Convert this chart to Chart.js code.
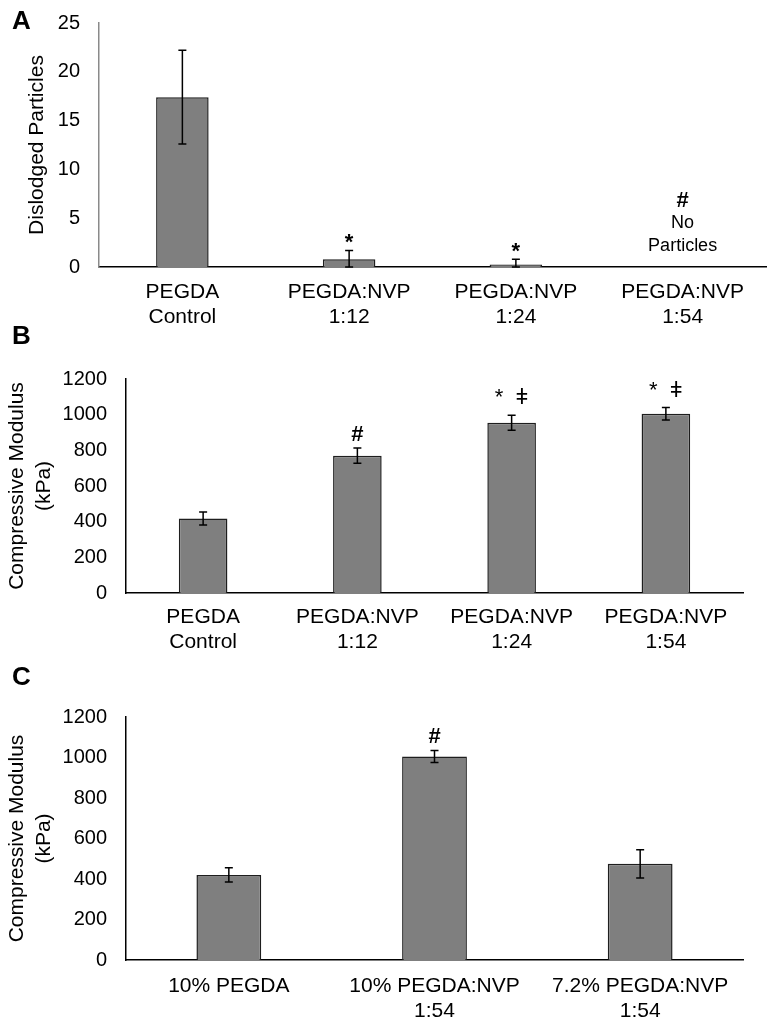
<!DOCTYPE html>
<html>
<head>
<meta charset="utf-8">
<script src="https://cdn.jsdelivr.net/npm/chart.js@4.4.1/dist/chart.umd.min.js"></script>
<style>
  body { margin: 0; background: #fff; }
  #page { position: relative; width: 775px; height: 1027px; }
  .panel { position: absolute; left: 0; width: 775px; }
  .letter { position: absolute; left: 12px; font: bold 26px 'Liberation Sans', Arial, sans-serif; line-height: 1; color: #000; }
</style>
</head>
<body>
<div id="page">
  <div class="panel" style="top:0;height:330px"><canvas id="chartA"></canvas></div>
  <div class="panel" style="top:330px;height:335px"><canvas id="chartB"></canvas></div>
  <div class="panel" style="top:665px;height:362px"><canvas id="chartC"></canvas></div>
  <div class="letter" style="top:7px">A</div>
  <div class="letter" style="top:322px">B</div>
  <div class="letter" style="top:663px">C</div>
</div>
<script>
// Panel A - dislodged particles
const groupsAB = [['PEGDA', 'Control'], ['PEGDA:NVP', '1:12'], ['PEGDA:NVP', '1:24'], ['PEGDA:NVP', '1:54']];
const particles = [17.4, 0.8, 0.25, 0];
const particlesErr = [4.8, 0.9, 0.55, 0];
const marksA = ['', '*', '*', '#'];
const notesA = [[], [], [], ['No', 'Particles']];

// Panel B - compressive modulus by ratio
const modulusB = [418, 770, 955, 1005];
const modulusErrB = [36, 43, 42, 35];
const marksB = ['', '#', '*  ǂ', '*  ǂ'];

// Panel C - compressive modulus by concentration
const groupsC = [['10% PEGDA'], ['10% PEGDA:NVP', '1:54'], ['7.2% PEGDA:NVP', '1:54']];
const modulusC = [420, 1005, 475];
const modulusErrC = [35, 30, 70];
const marksC = ['', '#', ''];

Chart.defaults.font.family = "'Liberation Sans', Arial, sans-serif";
Chart.defaults.color = '#000';

// draws error bars, significance marks and notes above each bar
function errorMarks(errors, marks, notes) {
    return {
        id: 'errorMarks',
        afterDatasetsDraw(chart) {
            const ctx = chart.ctx;
            const y = chart.scales.y;
            const values = chart.data.datasets[0].data;
            const bars = chart.getDatasetMeta(0).data;
            ctx.save();
            bars.forEach((bar, i) => {
                const v = values[i];
                const e = errors[i];
                let top = y.getPixelForValue(v + e);
                if (e > 0) {
                    const lo = y.getPixelForValue(Math.max(v - e, y.min));
                    ctx.strokeStyle = '#000';
                    ctx.lineWidth = 1.5;
                    ctx.beginPath();
                    ctx.moveTo(bar.x, top);
                    ctx.lineTo(bar.x, lo);
                    ctx.moveTo(bar.x - 4, top);
                    ctx.lineTo(bar.x + 4, top);
                    ctx.moveTo(bar.x - 4, lo);
                    ctx.lineTo(bar.x + 4, lo);
                    ctx.stroke();
                }
                ctx.fillStyle = '#000';
                ctx.textAlign = 'center';
                const lines = notes ? notes[i] : [];
                if (lines.length) {
                    ctx.font = "18px 'Liberation Sans', Arial, sans-serif";
                    ctx.textBaseline = 'middle';
                    let cy = top - 21;
                    for (let k = lines.length - 1; k >= 0; k--) {
                        ctx.fillText(lines[k], bar.x, cy);
                        cy -= 23;
                    }
                    top = cy + 23 - 9;
                }
                if (marks[i]) {
                    const dagger = marks[i].includes('ǂ');
                    ctx.font = (dagger ? '' : 'bold ') + "22px 'Liberation Sans', 'DejaVu Sans', Arial, sans-serif";
                    ctx.textBaseline = 'alphabetic';
                    const m = ctx.measureText(marks[i]);
                    const gap = dagger ? 11 : 7;
                    ctx.fillText(marks[i], bar.x, top - gap - m.actualBoundingBoxDescent);
                }
            });
            ctx.restore();
        }
    };
}

function makeChart(id, cfg) {
    return new Chart(document.getElementById(id), {
        type: 'bar',
        data: {
            labels: cfg.labels,
            datasets: [{
                data: cfg.values,
                backgroundColor: '#7f7f7f',
                borderColor: '#1e1e1e',
                borderWidth: 1.5,
                barPercentage: 0.315,
                categoryPercentage: 1
            }]
        },
        options: {
            responsive: true,
            maintainAspectRatio: false,
            animation: false,
            layout: { padding: { top: cfg.top, right: cfg.right, left: 0, bottom: 0 } },
            plugins: { legend: { display: false }, tooltip: { enabled: false } },
            scales: {
                x: {
                    grid: { display: false, drawTicks: false },
                    border: { color: '#000', width: 1.5 },
                    ticks: { font: { size: 21, lineHeight: 1.19 }, padding: cfg.xPad, maxRotation: 0, autoSkip: false },
                    afterFit: s => { s.height = cfg.xHeight; }
                },
                y: {
                    min: 0,
                    max: cfg.max,
                    grid: { display: false, drawTicks: false },
                    border: { color: cfg.yColor, width: 1.5 },
                    ticks: { stepSize: cfg.step, font: { size: 20 }, padding: 19, callback: v => String(v) },
                    title: {
                        display: true,
                        text: cfg.yTitle,
                        font: { size: 21, lineHeight: cfg.titleLH },
                        padding: { top: cfg.titlePad, bottom: 0 }
                    },
                    afterFit: s => {
                        s.width = cfg.yWidth;
                        // tick padding would otherwise push the plot top down
                        s.paddingTop = 12;
                    }
                }
            }
        },
        plugins: [errorMarks(cfg.errors, cfg.marks, cfg.notes)]
    });
}

makeChart('chartA', {
    labels: groupsAB, values: particles, errors: particlesErr, marks: marksA, notes: notesA,
    top: 23, right: 9, xHeight: 63, xPad: 13, yWidth: 99, max: 25, step: 5,
    yColor: '#8a8a8a', yTitle: 'Dislodged Particles', titleLH: 1.2, titlePad: 25
});

makeChart('chartB', {
    labels: groupsAB, values: modulusB, errors: modulusErrB, marks: marksB, notes: null,
    top: 49, right: 32, xHeight: 72, xPad: 12, yWidth: 126, max: 1200, step: 200,
    yColor: '#000', yTitle: ['Compressive Modulus', '(kPa)'], titleLH: 1.29, titlePad: 4
});

makeChart('chartC', {
    labels: groupsC, values: modulusC, errors: modulusErrC, marks: marksC, notes: null,
    top: 52, right: 32, xHeight: 67, xPad: 14, yWidth: 126, max: 1200, step: 200,
    yColor: '#000', yTitle: ['Compressive Modulus', '(kPa)'], titleLH: 1.29, titlePad: 4
});
</script>
</body>
</html>
